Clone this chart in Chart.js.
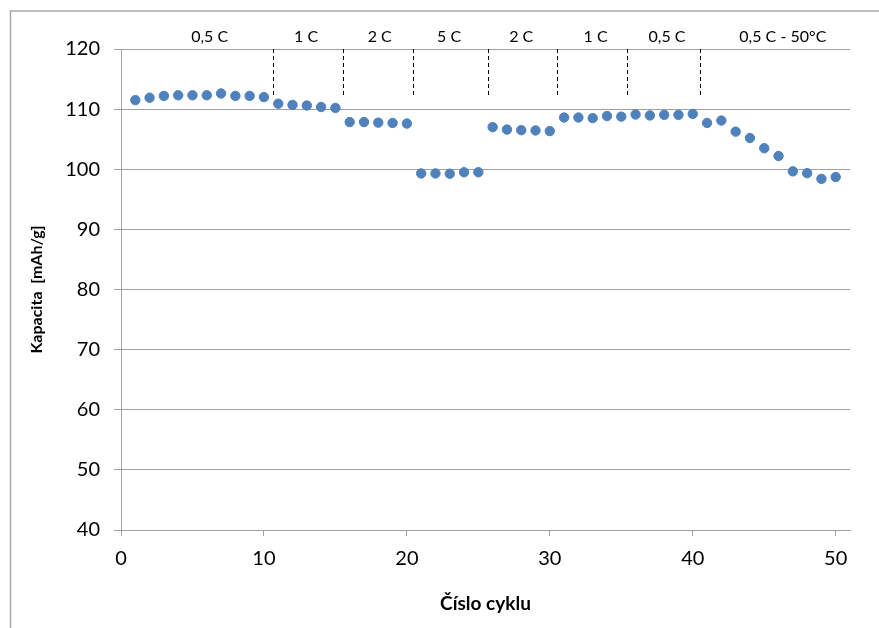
<!DOCTYPE html>
<html>
<head>
<meta charset="utf-8">
<script src="https://cdn.jsdelivr.net/npm/chart.js@4/dist/chart.umd.min.js"></script>
<style>
  html, body { margin: 0; padding: 0; background: #fff; }
  #wrap { width: 879px; height: 628px; }
</style>
</head>
<body>
<div id="wrap"><canvas id="chart" width="879" height="628"></canvas></div>
<script>
// cycle number and discharge capacity per cycle
const cycles = [1, 2, 3, 4, 5, 6, 7, 8, 9, 10,
  11, 12, 13, 14, 15, 16, 17, 18, 19, 20,
  21, 22, 23, 24, 25, 26, 27, 28, 29, 30,
  31, 32, 33, 34, 35, 36, 37, 38, 39, 40,
  41, 42, 43, 44, 45, 46, 47, 48, 49, 50];
const capacity = [111.5, 111.9, 112.2, 112.3, 112.3, 112.3, 112.6, 112.2, 112.2, 112.0,
  110.9, 110.7, 110.6, 110.35, 110.2, 107.85, 107.85, 107.75, 107.7, 107.6,
  99.3, 99.3, 99.25, 99.5, 99.5, 107.0, 106.6, 106.5, 106.45, 106.35,
  108.6, 108.6, 108.5, 108.85, 108.75, 109.1, 108.95, 109.05, 109.05, 109.2,
  107.7, 108.1, 106.25, 105.2, 103.5, 102.2, 99.65, 99.35, 98.4, 98.7];

// C-rate sections: label, where it sits (in cycles), and the dashed separators
const rateLabels = ['0,5 C', '1 C', '2 C', '5 C', '2 C', '1 C', '0,5 C', '0,5 C - 50°C'];
const rateLabelCycle = [6.2, 12.95, 18.1, 22.95, 28.0, 33.2, 38.2, 46.3];
const rateBreaks = [10.6, 15.5, 20.4, 25.7, 30.5, 35.4, 40.5];
const breakFrom = 120;
const breakTo = 112.3;

const xTicks = [0, 10, 20, 30, 40, 50];
const yTicks = [40, 50, 60, 70, 80, 90, 100, 110, 120];

const points = cycles.map((c, i) => ({ x: c, y: capacity[i] }));

const frame = {
  id: 'frame',
  beforeDraw(chart) {
    const ctx = chart.ctx;
    ctx.save();
    ctx.strokeStyle = '#a8a8a8';
    ctx.lineWidth = 1.5;
    ctx.beginPath();
    ctx.moveTo(10.5, 700);
    ctx.lineTo(10.5, 11);
    ctx.lineTo(900, 11);
    ctx.stroke();
    ctx.restore();
  }
};

const rateSections = {
  id: 'rateSections',
  afterDatasetsDraw(chart) {
    const { ctx, chartArea, scales: { x, y } } = chart;
    ctx.save();
    ctx.strokeStyle = '#000';
    ctx.lineWidth = 1;
    ctx.setLineDash([4, 3]);
    rateBreaks.forEach(b => {
      const px = Math.round(x.getPixelForValue(b)) + 0.5;
      ctx.beginPath();
      ctx.moveTo(px, y.getPixelForValue(breakFrom));
      ctx.lineTo(px, y.getPixelForValue(breakTo));
      ctx.stroke();
    });
    ctx.setLineDash([]);
    ctx.fillStyle = '#000';
    ctx.font = '16px Lato';
    ctx.textAlign = 'center';
    ctx.textBaseline = 'middle';
    rateLabels.forEach((t, i) => {
      ctx.fillText(t, x.getPixelForValue(rateLabelCycle[i]), chartArea.top - 12);
    });
    ctx.restore();
  }
};

new Chart(document.getElementById('chart'), {
  type: 'scatter',
  data: {
    datasets: [{
      data: points,
      backgroundColor: '#4f81bd',
      borderColor: '#4f81bd',
      pointRadius: 4.7,
      pointHoverRadius: 4.7,
      showLine: false
    }]
  },
  options: {
    responsive: false,
    animation: false,
    events: [],
    layout: { padding: { left: 0, top: 49, right: 29, bottom: 0 } },
    plugins: { legend: { display: false }, tooltip: { enabled: false } },
    scales: {
      x: {
        type: 'linear',
        min: 0,
        max: 51,
        afterFit(scale) { scale.height = 98; },
        afterBuildTicks(scale) { scale.ticks = xTicks.map(v => ({ value: v })); },
        grid: { drawOnChartArea: false, drawTicks: true, tickLength: 6, color: '#a0a0a0' },
        border: { color: '#a0a0a0', width: 1 },
        ticks: { font: { family: 'Lato', size: 20 }, color: '#000', padding: 11, maxRotation: 0 },
        title: {
          display: true,
          text: 'Číslo cyklu',
          font: { family: 'Lato', size: 19, weight: 'bold' },
          color: '#000',
          padding: { top: 0, bottom: 13 }
        }
      },
      y: {
        min: 40,
        max: 120,
        afterFit(scale) { scale.width = 121; },
        afterBuildTicks(scale) { scale.ticks = yTicks.map(v => ({ value: v })); },
        grid: { color: '#a0a0a0', lineWidth: 1, tickLength: 7 },
        border: { color: '#a0a0a0', width: 1 },
        ticks: { font: { family: 'Lato', size: 20 }, color: '#000', padding: 14 },
        title: {
          display: true,
          text: 'Kapacita  [mAh/g]',
          font: { family: 'Lato', size: 16, weight: 'bold' },
          color: '#000',
          padding: { top: 27, bottom: 0 }
        }
      }
    }
  },
  plugins: [frame, rateSections]
});
</script>
</body>
</html>
